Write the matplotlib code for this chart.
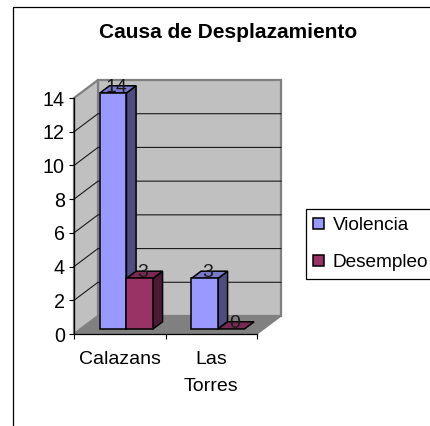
#!/usr/bin/env python3
# -*- coding: utf-8 -*-
import matplotlib
matplotlib.use('Agg')
import matplotlib.pyplot as plt
from matplotlib.patches import Patch, Rectangle

categories = ['Calazans', 'Las\nTorres']
violencia = [14, 3]
desempleo = [3, 0]
yticks = [0, 2, 4, 6, 8, 10, 12, 14]
title = 'Causa de Desplazamiento'

plt.rcParams['font.family'] = ['Liberation Sans', 'DejaVu Sans']
W, H = 430, 426
PX = 72.0 / 100

fig = plt.figure(figsize=(W / 100, H / 100), dpi=100, facecolor='white')
ax = fig.add_axes([74 / W, (H - 334) / H, 183 / W, 236 / H])
ax.set_xlim(0, 2)
ax.set_ylim(0, 14)
ax.patch.set_visible(False)

# pixel sizes turned into data units
ux = 91.5
uy = 236 / 14.0
depth_x = 24 / ux
depth_y = 18 / uy
bar_w = 26.5 / ux
z_front = 0.28
z_back = 0.68


def proj(x, y, z):
    return x + z * depth_x, y + z * depth_y


def poly(points, face, edge, lw, zorder):
    p = [proj(*q) for q in points]
    ax.fill([a[0] for a in p], [a[1] for a in p], facecolor=face, edgecolor=edge,
            linewidth=lw, zorder=zorder, clip_on=False, joinstyle='miter')


def bar3d(x0, v, front, top, side, zorder):
    x1 = x0 + bar_w
    if v > 0:
        poly([(x1, 0, z_front), (x1, 0, z_back), (x1, v, z_back), (x1, v, z_front)],
             side, 'black', 1.1, zorder)
    poly([(x0, v, z_front), (x1, v, z_front), (x1, v, z_back), (x0, v, z_back)],
         top, 'black', 1.1, zorder)
    if v > 0:
        poly([(x0, 0, z_front), (x1, 0, z_front), (x1, v, z_front), (x0, v, z_front)],
             front, 'black', 1.1, zorder)
    lx, ly = proj(x0 + bar_w / 2, v, 0.42)
    ax.text(lx, ly + 3 / uy, str(v), ha='center', va='center', fontsize=14, color='#1a1a1a',
            zorder=20, clip_on=False)


# walls and floor
poly([(0, 0, 0), (2, 0, 0), (2, 0, 1), (0, 0, 1)], '#808080', '#808080', 1, 1)
poly([(0, 0, 1), (2, 0, 1), (2, 14, 1), (0, 14, 1)], '#C0C0C0', '#808080', 1.6, 1)
poly([(0, 0, 0), (0, 0, 1), (0, 14, 1), (0, 14, 0)], '#C0C0C0', '#808080', 1.6, 1)

for v in yticks[1:-1]:
    p0 = proj(0, v, 0)
    p1 = proj(0, v, 1)
    p2 = proj(2, v, 1)
    ax.plot([p0[0], p1[0], p2[0]], [p0[1], p1[1], p2[1]], color='#1a1a1a', lw=0.8,
            zorder=2, clip_on=False)

for i in range(len(categories)):
    bar3d(i + 0.5 - bar_w, violencia[i], '#9999FF', '#7A7ACC', '#4D4D80', 5 + i * 2)
    bar3d(i + 0.5, desempleo[i], '#993366', '#7A2952', '#4D1A33', 6 + i * 2)

for s in ['top', 'right']:
    ax.spines[s].set_visible(False)
for s in ['left', 'bottom']:
    ax.spines[s].set_linewidth(0.9)
    ax.spines[s].set_zorder(3)
ax.set_yticks(yticks)
ax.set_xticks([0, 1, 2])
ax.set_xticklabels([])
ax.set_xticks([0.5, 1.5], minor=True)
ax.set_xticklabels(categories, minor=True, fontsize=14, linespacing=1.8)
ax.tick_params(axis='x', which='major', length=5 * PX, width=0.8)
ax.tick_params(axis='x', which='minor', length=0, pad=17 * PX)
ax.tick_params(axis='y', length=5 * PX, width=0.8, labelsize=14.2, pad=4 * PX)

fig.text(228 / W, 1 - 33 / H, title, ha='center', va='center', fontsize=15,
         fontweight='bold', color='black')

# chart frame, only left and top fall inside the picture
fig.add_artist(Rectangle((12.5 / W, -0.1), 1.0, 1.1 - 7 / H, transform=fig.transFigure,
                         facecolor='none', edgecolor='black', linewidth=0.9))

handles = [Patch(facecolor='#9999FF', edgecolor='black', linewidth=1.1, label='Violencia'),
           Patch(facecolor='#993366', edgecolor='black', linewidth=1.1, label='Desempleo')]
leg = fig.legend(handles=handles, loc='upper left',
                 bbox_to_anchor=(305.5 / W, 1 - 209 / H), fontsize=13.7, frameon=True,
                 fancybox=False, edgecolor='black', framealpha=1, borderaxespad=0,
                 handlelength=0.55, handleheight=0.55, handletextpad=0.45,
                 labelspacing=1.07, borderpad=0.42)
leg.get_frame().set_linewidth(0.9)

plt.savefig('out.png', dpi=100)
